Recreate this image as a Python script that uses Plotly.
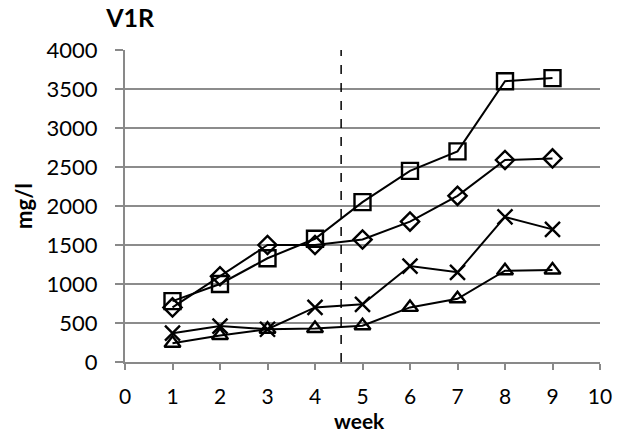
import plotly.graph_objects as go

weeks = [1, 2, 3, 4, 5, 6, 7, 8, 9]
square_vals = [780, 1000, 1330, 1580, 2050, 2450, 2700, 3600, 3640]
diamond_vals = [700, 1100, 1500, 1500, 1570, 1800, 2130, 2590, 2610]
cross_vals = [370, 460, 420, 700, 740, 1230, 1150, 1860, 1700]
triangle_vals = [240, 340, 420, 430, 465, 700, 810, 1170, 1180]
divider_week = 4.55

FONT = "Lato, 'Open Sans', sans-serif"

fig = go.Figure()
series = [
    (square_vals, "square-open", 16),
    (diamond_vals, "diamond-open", 14),
    (cross_vals, "x-thin-open", 15),
    (triangle_vals, "triangle-up-open", 14),
]
for vals, sym, sz in series:
    fig.add_trace(go.Scatter(
        x=weeks, y=vals, mode="lines+markers",
        line=dict(color="black", width=2),
        marker=dict(symbol=sym, size=sz, color="black",
                    line=dict(color="black", width=2.4)),
        showlegend=False, cliponaxis=False,
    ))

fig.add_shape(type="line", x0=divider_week, x1=divider_week, y0=0, y1=4000,
              xref="x", yref="y", line=dict(color="black", width=1.5, dash="dash"))

fig.add_annotation(text="<b>week</b>", xref="paper", yref="paper",
                   x=0.5, y=-0.186, xanchor="center", yanchor="middle",
                   showarrow=False, font=dict(size=21, family=FONT),
                   xshift=-3)

fig.update_layout(
    width=632, height=434,
    margin=dict(l=125, r=32, t=50, b=72),
    paper_bgcolor="white", plot_bgcolor="white",
    font=dict(family=FONT, size=22, color="black"),
    title=dict(text="<b>V1R</b>", x=0.168, xanchor="left", y=0.958, yanchor="middle",
               font=dict(size=25, family=FONT)),
    xaxis=dict(range=[0, 10], tickvals=list(range(0, 11)), showgrid=False,
               showline=True, linecolor="#898989", linewidth=2,
               ticks="outside", ticklen=6, tickcolor="#898989", tickwidth=2,
               ticklabelstandoff=9, automargin=False,
               tickfont=dict(size=21),
               zeroline=False),
    yaxis=dict(range=[0, 4000], tickvals=list(range(0, 4001, 500)),
               showgrid=True, gridcolor="#8c8c8c", gridwidth=1.5,
               showline=True, linecolor="#898989", linewidth=2,
               ticks="outside", ticklen=8, tickcolor="#898989", tickwidth=1.5,
               ticklabelstandoff=13, automargin=False,
               title=dict(text="<b>mg/l</b>", font=dict(size=22), standoff=8),
               zeroline=False),
)

fig.write_html("out.html")
